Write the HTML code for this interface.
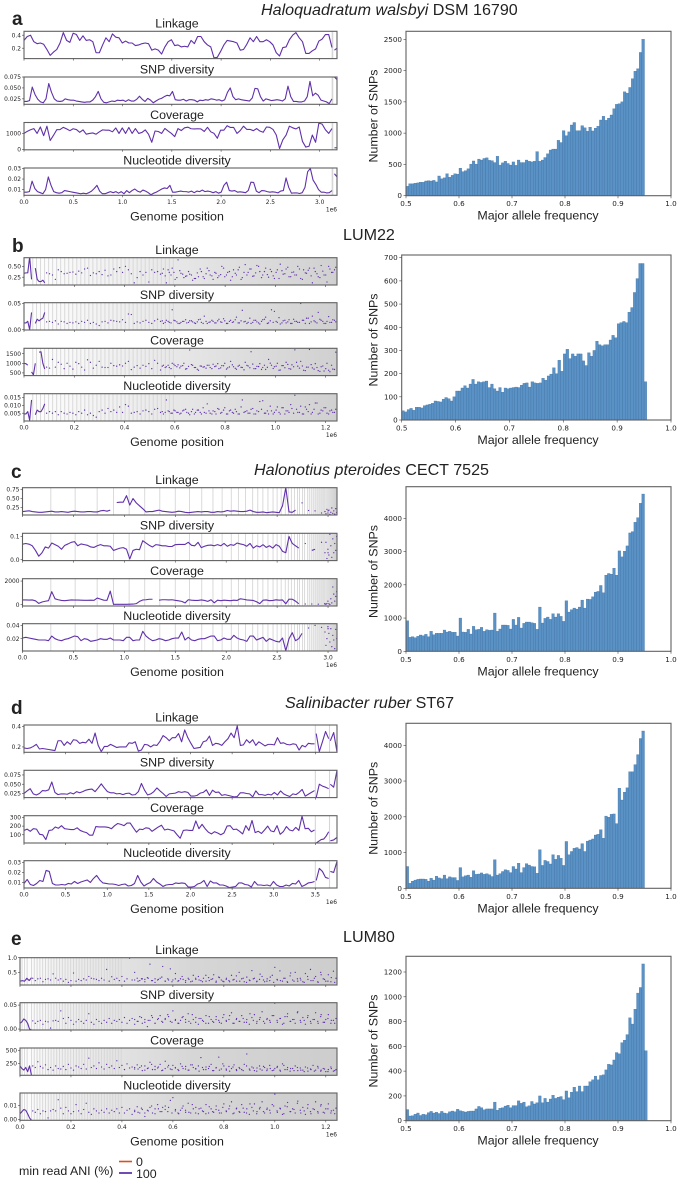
<!DOCTYPE html>
<html lang="en">
<head>
<meta charset="utf-8">
<title>Genome-wide SNP statistics</title>
<style>
html,body{margin:0;padding:0;background:#fff;}
#figure{display:block;width:679px;height:1181px;filter:blur(0.3px);}
text{font-family:"Liberation Sans",sans-serif;fill:#222;}
.tick{font-family:"DejaVu Sans",sans-serif;fill:#222;}
</style>
</head>
<body>
<svg id="figure" xmlns="http://www.w3.org/2000/svg" width="679" height="1181" viewBox="0 0 679 1181">
<defs>
<linearGradient id="shadeB" x1="0" x2="1" y1="0" y2="0"><stop offset="0" stop-color="#fff"/><stop offset="0.3" stop-color="#f0f0f0"/><stop offset="0.6" stop-color="#e2e2e2"/><stop offset="1" stop-color="#d0d0d0"/></linearGradient>
<linearGradient id="shadeE" x1="0" x2="1" y1="0" y2="0"><stop offset="0" stop-color="#fff"/><stop offset="0.12" stop-color="#f0f0f0"/><stop offset="0.32" stop-color="#e2e2e2"/><stop offset="0.55" stop-color="#d6d6d6"/><stop offset="1" stop-color="#cdcdcd"/></linearGradient>
<linearGradient id="shadeC" x1="0" x2="1" y1="0" y2="0"><stop offset="0" stop-color="#fff"/><stop offset="0.9" stop-color="#fff"/><stop offset="0.96" stop-color="#e6e6e6"/><stop offset="1" stop-color="#d0d0d0"/></linearGradient>
</defs>

<text x="261" y="15" font-size="16.1"><tspan font-style="italic">Haloquadratum walsbyi</tspan> DSM 16790</text>
<text x="343" y="240" font-size="16.1">LUM22</text>
<text x="254" y="475" font-size="16.1"><tspan font-style="italic">Halonotius pteroides</tspan> CECT 7525</text>
<text x="285" y="708" font-size="16.1"><tspan font-style="italic">Salinibacter ruber</tspan> ST67</text>
<text x="343" y="942" font-size="16.1">LUM80</text>

<text x="12" y="25" font-size="19" font-weight="bold">a</text>
<text x="12" y="252" font-size="19" font-weight="bold">b</text>
<text x="11" y="478" font-size="19" font-weight="bold">c</text>
<text x="11" y="714" font-size="19" font-weight="bold">d</text>
<text x="11" y="945" font-size="19" font-weight="bold">e</text>

<g>
<text x="19" y="1175" font-size="12.4">min read ANI (%)</text>
<line x1="119" x2="132" y1="1161.5" y2="1161.5" stroke="#dd4f1c" stroke-width="1.6"/>
<text x="136" y="1166" font-size="12.4">0</text>
<line x1="119" x2="132" y1="1173" y2="1173" stroke="#4a1fa0" stroke-width="1.6"/>
<text x="136" y="1178" font-size="12.4">100</text>
</g>
</svg>

<script>
/* ---------- Panel a: H. walsbyi ---------- */
const aLinkage = [.32,.38,.40,.30,.27,.28,.26,.18,.09,.14,.18,.28,.44,.32,.29,.43,.41,.32,.39,.32,.33,.30,.13,.13,.25,.36,.30,.42,.37,.36,.28,.31,.28,.28,.24,.25,.27,.28,.27,.17,.19,.17,.11,.22,.30,.33,.24,.25,.22,.23,.22,.32,.27,.38,.38,.30,.25,.22,.05,.06,.15,.25,.32,.31,.30,.28,.17,.18,.26,.36,.30,.38,.30,.30,.33,.30,.25,.13,.08,.21,.22,.33,.40,.44,.36,.30,.12,.12,.16,.19,.31,.34,.41,.41,.21];
const aLinkageTail = [.17,.20];
const aSnp = [.019,.019,.021,.052,.035,.024,.018,.016,.025,.060,.040,.025,.020,.019,.020,.025,.023,.022,.022,.020,.019,.018,.017,.018,.018,.022,.030,.042,.025,.017,.016,.018,.020,.019,.022,.021,.022,.019,.023,.020,.020,.024,.031,.024,.019,.026,.022,.016,.020,.024,.026,.030,.033,.032,.042,.023,.022,.022,.024,.020,.023,.023,.022,.018,.022,.021,.023,.022,.025,.024,.022,.023,.020,.023,.040,.050,.030,.023,.025,.023,.022,.021,.020,.027,.049,.048,.030,.020,.025,.023,.021,.022,.023,.022,.020,.025,.054,.030,.019,.019,.018,.018,.020,.030,.065,.032,.038,.033,.022,.020,.018,.014,.025];
const aSnpTail = [.075,.069];
const aCoverage = [1000,1130,1230,1300,1000,1400,860,1450,560,880,1230,1240,1380,1280,1170,1290,1240,1070,1220,950,1000,1030,950,1100,1220,1200,1200,1100,1340,1000,1340,1000,1370,1000,1300,1000,1060,1220,950,450,1150,1120,1000,1310,1150,1000,800,1300,1180,1350,1390,1290,1280,1290,1280,1120,1380,1100,1000,700,1200,1200,1480,1370,1370,1000,1180,1450,1250,1250,1170,1300,1150,1070,1400,1380,1250,900,60,600,900,1450,1350,1280,1400,500,150,200,900,450,1640,1580,1230,1000,1300];
const aCoverageTail = [100,110];
const aNuc = [.0075,.0075,.008,.018,.011,.008,.007,.006,.010,.022,.014,.008,.007,.0065,.007,.009,.0085,.008,.0075,.007,.0065,.006,.0065,.006,.007,.0085,.011,.014,.0085,.006,.006,.007,.008,.007,.008,.0065,.008,.006,.009,.007,.009,.0105,.0085,.0075,.0095,.0085,.007,.005,.0065,.0075,.009,.0105,.0115,.011,.014,.0075,.0075,.008,.0085,.008,.008,.0075,.0085,.007,.0085,.008,.0095,.008,.0085,.008,.007,.008,.0065,.0075,.014,.017,.009,.0085,.009,.0075,.0078,.0075,.007,.009,.017,.0168,.0085,.007,.009,.0088,.008,.0075,.0078,.0075,.0068,.0085,.009,.021,.012,.0065,.0068,.0068,.0062,.007,.012,.027,.03,.019,.015,.010,.0075,.0075,.0068,.007,.009];
const aNucTail = [.025,.022];
const aContigs = [3.13];

/* ---------- Panel b: LUM22 ---------- */
const bLinkageHead = [.34,.35,.35,.72,.2,null,.46,.2,.15,.15,.18,.12];
const bLinkageDots = [.35,.33,.3,.2,.42,.38,.33,.34,.36,.37,.32,.39,.35,.44,.46,.29,.35,.33,.38,.31,.41,.28,.3,.44,.38,.47,.36,.5,.42,.33,.12,.24,.38,.3,.36,.14,.42,.36,.38,.32,.44,.12,.36,.46,.2,.65,.34,.24,.28,.32,.18,.22,.26,.38,.22,.46,.3,.2,.34,.28,.5,.26,.36,.18,.42,.3,.48,.24,.54,.36,.44,.28,.52,.38,.3,.46,.25,.38,.22,.42,.55,.32,.44,.26,.36,.3,.5,.22,.42,.34,.46,.12,.38,.26,.52,.3,.14,.44,.36,.48];
const bLinkageExtra = [.34,.28,.42,.3,.36,.24,.4,.32,.27,.38,.3,.22,.35,.44,.26,.33,.4,.28,.36,.24,.31,.46,.3,.38,.26,.34,.42,.2,.36,.3,.44,.27,.35,.5,.24,.38,.31,.43,.28,.36,.22,.4,.33,.48,.26,.37,.3,.44,.2,.35,.41,.28,.46,.33,.24,.39,.3,.5,.36,.42];
const bSnpHead = [.013,.013,.016,.0,.033,null,.012,.02,.017,.02,.022,.033];
const bSnpDots = [.015,.016,.014,.017,.011,.016,.015,.012,.014,.013,.015,.012,.016,.014,.018,.012,.014,.011,.008,.015,.016,.013,.018,.017,.016,.015,.019,.014,.03,.029,.012,.015,.013,.016,.018,.014,.012,.017,.02,.016,.012,.018,.014,.038,.017,.012,.014,.016,.013,.017,.015,.012,.019,.014,.026,.012,.015,.016,.013,.02,.014,.017,.012,.018,.015,.024,.013,.037,.016,.014,.012,.018,.015,.011,.019,.024,.013,.038,.035,.014,.011,.017,.013,.019,.012,.016,.014,.05,.018,.022,.012,.026,.015,.033,.018,.012,.016,.014,.019,.015];
const bSnpExtra = [.017,.014,.016,.013,.018,.015,.012,.016,.019,.014,.017,.013,.015,.02,.012,.016,.014,.018,.013,.017,.015,.021,.012,.016,.014,.019,.013,.017,.015,.012,.022,.014,.018,.013,.016,.02,.012,.017,.014,.016,.023,.013,.018,.015,.012,.02,.016,.014,.018,.012,.022,.015,.017,.013,.02,.016,.012,.025,.014,.018];
const bCoverageHead = [1000,980,900,null,550,400,1000,null,1580,1600,1000,700];
const bCoverageDots = [800,750,1200,800,1050,950,720,1000,850,700,1050,980,800,650,1180,1050,750,900,1100,800,780,780,1000,880,850,920,860,1000,1100,670,800,880,750,900,840,980,720,1150,1000,650,900,820,780,1000,880,920,850,1000,720,1690,900,780,640,850,820,900,780,950,860,720,880,1000,760,1100,820,690,900,780,1050,860,1600,720,840,980,780,680,1200,900,820,1000,650,880,1050,720,920,1700,850,1100,640,800,1720,760,980,620,820,600,1000,560,700,1580];
const bCoverageExtra = [850,780,900,720,950,820,760,880,700,840,930,780,690,860,800,750,900,720,830,980,760,870,700,810,920,740,850,790,660,890,770,960,720,830,680,900,790,1010,730,850,640,880,770,940,700,820,1050,750,860,620,800,930,700,780,580,860,720,640,900,680];
const bNucHead = [.0045,.0045,.006,.0005,.0135,null,.004,.007,.006,.006,.008,.011];
const bNucDots = [.005,.006,.005,.006,.004,.006,.005,.0045,.0055,.005,.004,.006,.005,.007,.004,.005,.0035,.0025,.006,.007,.005,.008,.006,.007,.0055,.009,.0055,.0105,.0095,.005,.0055,.006,.0045,.0065,.007,.006,.0045,.0075,.008,.0055,.0045,.0135,.006,.005,.0065,.0055,.005,.007,.0055,.004,.0075,.0055,.007,.0045,.0055,.011,.005,.0065,.0045,.0075,.0055,.0085,.0045,.007,.005,.006,.0045,.0135,.006,.005,.0075,.0045,.0065,.0125,.013,.005,.0045,.0065,.0055,.009,.0045,.0085,.0065,.0055,.008,.0165,.0055,.0095,.0045,.0075,.0105,.0055,.0115,.0045,.007,.0085,.005,.0065,.0055,.0075];
const bNucExtra = [.006,.0055,.0065,.005,.007,.0055,.0045,.0065,.0075,.005,.006,.0045,.007,.0055,.0085,.005,.0065,.0045,.006,.008,.005,.007,.0045,.0065,.0055,.0075,.0045,.009,.0055,.0065,.005,.008,.0045,.006,.0075,.005,.0065,.0095,.0045,.007,.0055,.0085,.0045,.0065,.0105,.005,.0075,.0055,.0045,.009,.006,.0045,.0075,.0115,.005,.0065,.0085,.0045,.007,.0055];
const bContigs = [.035,.05,.066,.082,.098,.114,.13,.146,.162,.178,.194,.21,.226,.242,.258,.274,.29,.306,.322,.338,.354,.37,.386,.402,.418,.434,.45,.466,.482,.498,.514,.53,.546,.562,.578,.594];

/* ---------- Panel c: H. pteroides ---------- */
const cLinkage = [.14,.15,.16,.14,.13,.12,.12,.13,.14,.15,.13,.13,.14,.13,.12,.14,.15,.14,.13,.13,.14,.14,.13,.13,.16,.17,.15,.18,null,.39,.40,.40,.58,.32,.50,.38,.30,.22,.13,.14,.14,.16,.18,.15,.14,.13,.12,.13,.15,.14,.12,.11,.12,.13,.14,.13,.14,.14,.12,.12,.14,.13,.14,.17,.15,.16,.15,.14,.14,.15,.18,.14,.12,.12,.13,.11,.12,.13,.12,.11,.30,.80,.13,.12,.18,null,.38,null,.17,null,.16,null,.10,null,.16];
const cLinkageTail = [.14,.08,.2,.1,.18,.06,.12,.24,.09,.16,.07,.22,.11];
const cSnp = [.067,.07,.067,.06,.04,.015,.03,.055,.05,.072,.065,.058,.045,.062,.068,.075,.078,.06,.068,.065,.062,.055,.053,.06,.065,.06,.06,.058,.04,.045,.05,.052,.045,.003,.04,.045,.043,.082,.072,.062,.055,.065,.063,.06,.06,.057,.057,.065,.066,.066,.066,.075,.062,.06,.075,.052,.058,.062,.063,.06,.065,.06,.07,.058,.065,.062,.072,.068,.065,.058,.07,.05,.06,.055,.065,.053,.06,.05,.065,.058,.036,.03,.10,.07,.06,.05,null,.07,null,.04,.045,null,.075,null,.03];
const cSnpTail = [.03,.075,.005,.045,.02,.11,.06,.01,.09,.03,.07,.04,.1];
const cCoverage = [400,400,390,400,330,110,230,290,340,1100,500,420,360,340,370,400,390,390,380,370,370,380,370,560,470,380,370,1150,30,30,30,30,30,40,50,90,280,400,420,460,460,null,380,420,420,400,420,370,330,280,150,420,380,360,360,400,360,280,420,160,380,340,380,360,340,380,360,500,460,400,380,360,250,90,380,400,340,360,410,380,400,80,470,460,300,80,null,60,null,60,null,50,null,90,null];
const cCoverageTail = [60,40,100,300,80,20,500,150,1500,900,300,700,1100];
const cNuc = [.021,.022,.021,.02,.019,.018,.018,.018,.017,.024,.02,.018,.017,.019,.02,.022,.024,.023,.017,.02,.019,.016,.017,.018,.02,.019,.019,.021,.018,.018,.018,.017,.022,.022,.017,.018,.018,.031,.024,.02,.017,.018,.02,.019,.017,.018,.02,.021,.021,.03,.018,.022,.018,.017,.019,.02,.02,.022,.024,.024,.017,.018,.021,.019,.019,.025,.021,.019,.018,.016,.024,.024,.018,.02,.022,.016,.02,.018,.016,.015,.021,.002,.02,.029,.017,.02,.028,null,.036,null,.04,null,.037,null,.035];
const cNucTail = [.03,.01,.02,.038,.028,.015,.035,.008,.025,.018,.005,.034,.02];
const cContigs = [.278,.517,.733,.893,1.047,1.2,1.348,1.5,1.64,1.76,1.87,1.96,2.05,2.12,2.19,2.26,2.31,2.36,2.41,2.46,2.5,2.54,2.58,2.61,2.64,2.67,2.7,2.72,2.75,2.77,2.8,2.82,2.84,2.86,2.88,2.9,2.92,2.94,2.96];

/* ---------- Panel d: S. ruber ---------- */
const dLinkage = [.19,.185,.19,.205,.225,.18,.185,.18,.175,.17,.165,.26,.26,.215,.25,.225,.27,.265,.235,.245,.24,.275,.235,.335,.215,.155,.205,.205,.225,.21,.195,.2,.2,.2,.24,.235,.25,.16,.17,.225,.22,.2,.22,.215,.255,.31,.29,.26,.29,.29,.33,.25,.365,.29,.235,.185,.19,.195,.25,.26,.305,.215,.235,.23,.215,.25,.28,.335,.29,.405,.215,.22,.27,.24,.27,.215,.25,.23,.21,.225,.225,.22,.29,.235,.24,.225,.22,.23,.225,.17,.215,.2,.235,.23,.23];
const dLinkageB = [.33,.155,.25,.35,.28];
const dLinkageC = [.26,.34,.15];
const dSnp = [.025,.032,.038,.024,.021,.025,.033,.032,.035,.056,.028,.022,.024,.024,.023,.027,.024,.03,.027,.03,.034,.036,.037,.03,.04,.051,.04,.03,.027,.027,.024,.025,.022,.025,.026,.021,.022,.03,.052,.034,.021,.024,.03,.04,.032,.025,.017,.024,.025,.026,.03,.028,.03,.028,.018,.018,.02,.026,.028,.035,.02,.034,.028,.029,.02,.022,.02,.018,.016,.017,.027,.027,.025,.024,.016,.032,.022,.022,.02,.023,.021,.028,.021,.032,.024,.02,.017,.024,.022,.028,.036,.018,.023,.028,.033];
const dSnpB = [.014,.05,.045,.042,.038];
const dSnpC = [.05,.042,.0875];
const dCoverage = [150,165,140,170,165,105,100,45,150,155,190,175,205,170,165,160,160,180,150,135,125,95,95,195,190,190,190,185,170,205,230,220,205,235,235,180,130,165,160,180,175,140,165,190,210,155,165,155,145,100,60,150,155,150,150,260,170,220,170,130,110,135,120,100,120,200,205,160,165,140,110,205,150,265,125,140,115,155,200,145,135,205,105,135,195,155,145,185,150,315,170,175,135,155];
const dCoverageB = [5,25,45,50,85,135];
const dCoverageC = [30,40,70];
const dNuc = [.009,.013,.008,.007,.009,.012,.011,.022,.021,.009,.0075,.0075,.008,.0075,.009,.0085,.011,.009,.0105,.0115,.0125,.01,.014,.017,.0125,.0095,.009,.0085,.0085,.008,.007,.008,.0085,.0065,.007,.009,.017,.0105,.0065,.0085,.01,.014,.0105,.0085,.006,.0075,.008,.008,.0095,.009,.0095,.009,.0055,.0055,.006,.0085,.0095,.012,.006,.0115,.0095,.0095,.0075,.0075,.0065,.005,.0055,.006,.0095,.0095,.008,.0075,.0055,.011,.0075,.0075,.007,.0075,.0065,.011,.0075,.006,.006,.0075,.0065,.009,.0085,.012,.006,.0075,.0095,.01,.011];
const dNucB = [.012,.024,.021,.015,.014];
const dNucC = [.021,.02,.031];
const dContigs = [3.5,3.67];

/* ---------- Panel e: LUM80 ---------- */
const eLinkageHead = [.2,.22,.2,.3,.22,.32];
const eLinkageDots = [.3,.22,.28,.3,.18,.26,.28,.24,.45,.3,.24,.28,.2,.26,.16,.22,.48,.2,.26,.22,.28,.24,.36,.3,.28,.26,.22,.3,.24,.6,.2,.35,.26,.3,.22,.36,.2,.28,.98,.24,.5,.3,.22,.28,.26,.32,.78,.22,.28,.24,.3,.7,.2,.28,.62,.24,.46,.2,.28,.26,.22,.3,.18,.4,.26,.36,.22,.3,.2,.32,.26,.42,.2,.34,.24,.18,.3,.22,.4,.26,.2,.5,.28,.18,.34,.24,.56,.3,.2,.26,.36,.18,.28,.22,.4,.67,.24,.55,.2,.3,.16,.38,.24,.5,.2,.3,.18,.46,.26,.6,.22,.36,.16,.5,.28,.2,.42,.18,.54,.3];
const eLinkageExtra = [.24,.2,.28,.18,.3,.22,.16,.26,.34,.2,.24,.18,.28,.22,.36,.16,.26,.2,.3,.24,.18,.4,.22,.28,.16,.32,.2,.26,.18,.24,.38,.2,.3,.16,.22,.28,.18,.44,.24,.2,.34,.16,.26,.22,.3,.18,.48,.2,.28,.24,.16,.36,.22,.3,.18,.42,.26,.2,.32,.16];
const eSnpHead = [.012,.015,.021,.018,.012,.0,-.002];
const eSnpDots = [.017,.012,.016,.018,.01,.016,.015,.002,.017,.018,.016,.038,.022,.012,.024,.018,.01,.015,.02,.016,.012,.018,.032,.014,.01,.02,.016,.012,.018,.014,.022,.012,.018,.016,.02,.014,.024,.012,.018,.022,.01,.016,.026,.012,.02,.005,.018,.024,.012,.02,.028,.014,.022,.03,.016,.038,.02,.012,.018,.026,.014,.032,.012,.02,.024,.01,.022,.016,.028,.012,.02,.014,.026,.018,.012,.03,.016,.02,.034,.012,.022,.016,.028,.014,.02,.01,.024,.03,.016,.02,.036,.012,.022,.018,.028,.054,.014,.022,.01,.026,.032,.016,.02,.012,.036,.018,.024,.01,.028,.016,.02,.034,.012,.026,.014,.02,.03,.012,.018,.022];
const eSnpExtra = [.02,.016,.024,.014,.018,.028,.012,.022,.016,.02,.026,.014,.018,.012,.024,.02,.016,.03,.014,.022,.018,.012,.026,.016,.02,.014,.024,.018,.028,.012,.02,.016,.022,.014,.032,.018,.012,.024,.016,.02,.014,.028,.018,.022,.012,.026,.016,.02,.034,.014,.018,.024,.012,.02,.016,.03,.014,.022,.018,.012];
const eCoverageHead = [200,150,120,170,90,200,20];
const eCoverageDots = [200,170,280,190,160,220,130,170,120,200,150,140,190,130,230,160,120,200,180,150,230,140,350,170,200,150,260,180,140,230,170,200,150,300,170,210,130,240,160,180,140,220,170,110,200,150,270,130,190,160,230,120,290,180,140,210,160,130,240,150,190,120,220,170,140,200,360,130,180,150,230,110,170,370,140,200,120,190,150,220,110,170,130,230,430,140,180,110,160,200,120,170,140,210,110,150,190,120,240,130,170,100,150,200,110,160,120,180,100,140,210,120,160,100,150,90,130,180,100,130];
const eCoverageExtra = [170,140,200,120,160,230,130,180,110,150,210,130,170,110,190,140,120,220,150,100,170,130,190,110,160,120,240,140,100,180,130,150,110,200,120,160,100,140,190,110,150,120,170,100,210,130,150,110,170,120,90,160,130,100,190,120,140,90,150,110];
const eNucHead = [.004,.0055,.007,.0065,.004,.001,-.0007];
const eNucDots = [.006,.005,.007,.004,.006,.0055,.001,.006,.007,.006,.014,.008,.004,.0085,.006,.004,.0055,.0105,.006,.004,.007,.0115,.005,.0035,.0075,.006,.0045,.0065,.005,.0075,.0045,.0065,.0055,.0075,.0045,.0085,.0045,.0065,.0075,.0035,.0055,.009,.0045,.007,.002,.0065,.0085,.0045,.0075,.0105,.0055,.0085,.0095,.0055,.0135,.0155,.007,.0045,.0065,.0095,.005,.0115,.0045,.0075,.0085,.004,.008,.0055,.0105,.0045,.0075,.005,.0095,.0065,.0045,.011,.0055,.0075,.0125,.0045,.008,.0055,.0105,.005,.0075,.0035,.0085,.011,.0055,.0075,.0125,.0045,.008,.0065,.0105,.018,.005,.008,.0035,.0095,.012,.0055,.0075,.0045,.013,.0065,.0085,.0035,.0105,.0055,.0075,.0125,.0045,.0095,.005,.0075,.011,.0045,.0065,.008];
const eNucExtra = [.0065,.005,.008,.0045,.006,.0095,.004,.0075,.0055,.007,.0085,.0045,.006,.004,.008,.0065,.005,.0105,.0045,.0075,.006,.004,.009,.0055,.007,.0045,.0085,.006,.0095,.004,.0075,.005,.008,.0045,.011,.006,.004,.0085,.0055,.007,.0045,.0095,.006,.0075,.004,.009,.0055,.007,.0115,.0045,.006,.008,.004,.007,.0055,.0105,.0045,.0075,.006,.004];
const eContigs = [.008,.018,.028,.045,.056,.067,.078,.089,.1,.111,.122,.133,.144,.155,.166,.177,.188,.199,.21,.221,.232,.243,.254,.265,.276,.287,.298,.309,.32,.331,.342,.353,.364,.375,.386,.397];

/* ---------- Histogram counts (bins of 0.005 from 0.5) ---------- */
const aHist = [150,190,190,200,205,215,215,235,240,235,245,220,315,270,285,350,295,325,350,345,440,385,400,430,505,555,505,585,570,595,605,565,560,530,630,490,525,550,515,490,540,485,570,530,530,570,550,540,550,705,550,570,610,670,730,745,745,885,850,1040,960,1020,1130,1170,1040,1040,1120,1085,1030,1095,1035,1080,1110,1210,1270,1205,1240,1290,1390,1460,1470,1500,1660,1640,1730,1870,1990,2030,2290,2500];
const bHist = [40,35,45,50,42,55,55,52,62,65,68,72,82,80,78,90,97,92,82,100,125,125,138,148,138,155,175,155,165,162,165,168,140,155,135,125,140,120,138,135,138,140,142,140,150,158,160,142,165,160,158,160,180,172,190,198,225,200,258,210,285,305,265,285,275,285,285,255,235,290,275,300,340,325,320,325,325,345,365,355,415,420,425,420,465,485,550,610,675,675,165];
const cHist = [920,420,440,410,450,490,470,510,440,600,500,540,540,540,640,580,600,570,575,460,1000,580,570,660,520,750,650,660,720,600,650,630,640,1150,600,670,790,790,780,670,960,790,1020,700,840,880,880,860,840,660,1330,850,990,1030,960,1130,1030,1130,1050,900,1520,1180,1250,1300,1270,1330,1540,1300,1570,1560,1640,1780,1800,1980,1760,2290,2340,2320,2500,2290,3020,2840,3010,3170,3560,3600,3880,4020,4450,4730];
const dHist = [610,140,200,230,250,260,260,250,200,280,230,340,290,270,370,270,320,300,300,220,580,320,350,370,310,490,390,400,430,390,410,380,330,800,370,410,470,520,500,440,610,540,700,440,580,690,650,610,600,420,1080,640,780,750,680,940,810,920,840,640,1310,940,1030,1120,1140,1100,1250,1030,1320,1350,1380,1490,1510,1640,1400,2020,1990,2070,2080,1810,2800,2470,2690,2810,3260,3260,3460,3740,4190,4400];
const eHist = [90,38,40,52,62,42,52,48,65,75,62,68,58,75,62,58,72,78,72,92,80,75,70,75,78,78,95,115,105,88,95,95,95,150,85,100,105,118,125,105,122,122,160,140,150,112,120,155,135,145,200,145,180,150,175,205,180,190,195,170,240,185,230,270,235,280,235,280,280,315,330,360,330,365,370,410,455,450,490,550,540,630,650,695,830,780,900,1030,1075,1265,565];

/* ---------- Axis ticks (values and printed labels) ---------- */
const histXTicks = [0.5,0.6,0.7,0.8,0.9,1.0];
const aHistTicks = [0,500,1000,1500,2000,2500];
const bHistTicks = [0,100,200,300,400,500,600,700];
const cHistTicks = [0,1000,2000,3000,4000];
const dHistTicks = [0,1000,2000,3000,4000];
const eHistTicks = [0,200,400,600,800,1000,1200];
const aGenomeTicks = [0,0.5,1,1.5,2,2.5,3];
const bGenomeTicks = [0,0.2,0.4,0.6,0.8,1,1.2];
const cGenomeTicks = [0,0.5,1,1.5,2,2.5,3];
const dGenomeTicks = [0,0.5,1,1.5,2,2.5,3,3.5];
const eGenomeTicks = [0,0.2,0.4,0.6,0.8,1,1.2];
const subplotNames = ['Linkage','SNP diversity','Coverage','Nucleotide diversity'];

const aYTicks = [[.2,.4],[.025,.05,.075],[0,1000],[.01,.02,.03]];
const aYLabels = [['0.2','0.4'],['0.025','0.050','0.075'],['0','1000'],['0.01','0.02','0.03']];
const bYTicks = [[.25,.5],[0,.05],[500,1000,1500],[.005,.01,.015]];
const bYLabels = [['0.25','0.50'],['0.00','0.05'],['500','1000','1500'],['0.005','0.010','0.015']];
const cYTicks = [[.25,.5,.75],[0,.1],[0,2000],[.02,.04]];
const cYLabels = [['0.25','0.50','0.75'],['0.0','0.1'],['0','2000'],['0.02','0.04']];
const dYTicks = [[.2,.4],[.025,.05,.075],[100,200,300],[.01,.02,.03]];
const dYLabels = [['0.2','0.4'],['0.025','0.050','0.075'],['100','200','300'],['0.01','0.02','0.03']];
const eYTicks = [[.5,1],[0,.05],[250,500],[0,.01]];
const eYLabels = [['0.5','1.0'],['0.00','0.05'],['250','500'],['0.00','0.01']];

const aDomains = [[.04,.46],[.0125,.075],[-20,1680],[.0045,.0305]];
const bDomains = [[.07,.70],[-.0005,.0515],[360,1780],[0,.0175]];
const cDomains = [[.045,.80],[-.004,.114],[-110,2200],[.0015,.0425]];
const dDomains = [[.148,.413],[.014,.0875],[5,320],[.0045,.0317]];
const eDomains = [[.07,1.0],[-.002,.055],[20,545],[-.0007,.0188]];

/* ---------- Drawing ---------- */
const NS = 'http://www.w3.org/2000/svg';
const root = document.getElementById('figure');
const LINE = '#6030ab';
const AXH = 27.3, AXR = 337;

function mk(parent, tag, attrs) {
  const el = document.createElementNS(NS, tag);
  for (const k in attrs) el.setAttribute(k, attrs[k]);
  parent.appendChild(el);
  return el;
}
function linear(d0, d1, r0, r1) {
  return v => r0 + (v - d0) / (d1 - d0) * (r1 - r0);
}
function tickLine(parent, x1, y1, x2, y2) {
  const t = mk(parent, 'line', {x1, y1, x2, y2, stroke: '#444', 'stroke-width': 0.6});
  
  
}
function tickText(parent, x, y, s, anchor, size) {
  const t = mk(parent, 'text', {x, y, 'text-anchor': anchor, 'font-size': size, class: 'tick'});
  
  
  t.textContent = s;
}
function plotRuns(g, values, x0, x1, X, Y, clipId) {
  const step = values.length > 1 ? (x1 - x0) / (values.length - 1) : 0;
  let run = [];
  const flush = () => {
    if (run.length === 1) {
      const c = mk(g, 'circle', {cx: run[0][0], cy: run[0][1], r: 0.65, fill: LINE, 'clip-path': `url(#${clipId})`});
      
      
    } else if (run.length > 1) {
      const p = mk(g, 'polyline', {points: run.map(q => q[0].toFixed(2) + ',' + q[1].toFixed(2)).join(' '), fill: 'none', stroke: LINE, 'stroke-width': 1.1, 'stroke-linejoin': 'round', 'clip-path': `url(#${clipId})`});
      
      
    }
    run = [];
  };
  values.forEach((v, i) => {
    if (v === null) { flush(); return; }
    run.push([X(x0 + i * step), Y(v)]);
  });
  flush();
}
function plotDots(g, values, x0, x1, X, Y, clipId) {
  const step = (x1 - x0) / (values.length - 1);
  values.forEach((v, i) => {
    const c = mk(g, 'circle', {cx: X(x0 + i * step), cy: Y(v), r: 0.65, fill: LINE, 'clip-path': `url(#${clipId})`});
    
    
  });
}
let clipCount = 0;
function drawGenome(id, left, tops, xmax, xTicks, yTicks, yLabels, domains, contigs, shade, contigW, seriesFn) {
  const X = linear(0, xmax, left, AXR);
  const group = mk(root, 'g', {});
  
  
  tops.forEach((top, s) => {
    const bottom = top + AXH;
    const g = mk(group, 'g', {});
    
    
    const clipId = 'clip' + (clipCount++);
    const cp = mk(root.querySelector('defs'), 'clipPath', {id: clipId});
    mk(cp, 'rect', {x: left, y: top, width: AXR - left, height: AXH});
    if (shade) {
      const sh = mk(g, 'rect', {x: left, y: top, width: AXR - left, height: AXH, fill: shade});
      
      
    }
    contigs.forEach(c => {
      const l = mk(g, 'line', {x1: X(c), x2: X(c), y1: top, y2: bottom, stroke: '#d6d6d6', 'stroke-width': contigW});
      
      
    });
    const Y = linear(domains[s][0], domains[s][1], bottom, top);
    seriesFn(s, g, X, Y, clipId);
    const frame = mk(g, 'rect', {x: left, y: top, width: AXR - left, height: AXH, fill: 'none', stroke: '#606060', 'stroke-width': 1.1});
    
    
    yTicks[s].forEach((v, i) => {
      tickLine(g, left - 2, Y(v), left, Y(v));
      tickText(g, left - 3, Y(v) + 2.1, yLabels[s][i], 'end', 5.9);
    });
    xTicks.forEach(v => tickLine(g, X(v), bottom, X(v), bottom + 2));
    const tt = mk(g, 'text', {x: 177, y: top - 3.6, 'text-anchor': 'middle', 'font-size': 12.4});
    
    
    tt.textContent = subplotNames[s];
    if (s === 3) {
      xTicks.forEach(v => tickText(g, X(v), bottom + 8.6, v.toFixed(1), 'middle', 5.9));
      tickText(g, AXR, bottom + 16, '1e6', 'end', 5.9);
      const xl = mk(g, 'text', {x: 177, y: bottom + 25, 'text-anchor': 'middle', 'font-size': 12.4});
      
      
      xl.textContent = 'Genome position';
    }
  });
}
function drawHist(id, left, top, bottom, y0, yRef, refValue, counts, yTicksList) {
  const right = 671;
  const X = linear(0.5, 1.0, left, right);
  const Y = linear(0, refValue, y0, yRef);
  const g = mk(root, 'g', {});
  
  
  counts.forEach((c, i) => {
    const b0 = 0.5 + i * 0.005;
    const r = mk(g, 'rect', {x: X(b0), y: Y(c), width: X(b0 + 0.005) - X(b0), height: y0 - Y(c), fill: '#5a92c6', stroke: '#3a6c9e', 'stroke-width': 0.3});
    
    
  });
  const frame = mk(g, 'rect', {x: left, y: top, width: right - left, height: bottom - top, fill: 'none', stroke: '#606060', 'stroke-width': 1.1});
  
  
  yTicksList.forEach(v => {
    tickLine(g, left - 2.5, Y(v), left, Y(v));
    tickText(g, left - 4, Y(v) + 2.5, String(v), 'end', 7.2);
  });
  histXTicks.forEach(v => {
    tickLine(g, X(v), bottom, X(v), bottom + 2.5);
    tickText(g, X(v), bottom + 10.5, v.toFixed(1), 'middle', 7.2);
  });
  const xl = mk(g, 'text', {x: 538, y: bottom + 24, 'text-anchor': 'middle', 'font-size': 12.4});
  
  
  xl.textContent = 'Major allele frequency';
  const cy = (top + bottom) / 2 + 2.5;
  const yl = mk(g, 'text', {x: 0, y: 0, transform: `translate(377.5 ${cy}) rotate(-90)`, 'text-anchor': 'middle', 'font-size': 12.4});
  
  
  yl.textContent = 'Number of SNPs';
}

const aMain = [aLinkage, aSnp, aCoverage, aNuc];
const aTail = [aLinkageTail, aSnpTail, aCoverageTail, aNucTail];
drawGenome('a', 24, [31.3,77,122.5,168], 3.176, aGenomeTicks, aYTicks, aYLabels, aDomains, aContigs, null, 1.6, (s, g, X, Y, clip) => {
  plotRuns(g, aMain[s], 0, 3.125, X, Y, clip);
  plotRuns(g, aTail[s], 3.15, 3.176, X, Y, clip);
});

const bHead = [bLinkageHead, bSnpHead, bCoverageHead, bNucHead];
const bDots = [bLinkageDots, bSnpDots, bCoverageDots, bNucDots];
const bExtra = [bLinkageExtra, bSnpExtra, bCoverageExtra, bNucExtra];
drawGenome('b', 24, [257.7,302.7,348.3,393.7], 1.245, bGenomeTicks, bYTicks, bYLabels, bDomains, bContigs, 'url(#shadeB)', 0.9, (s, g, X, Y, clip) => {
  plotRuns(g, bHead[s], 0, 0.0825, X, Y, clip);
  plotDots(g, bDots[s], 0.09, 1.24, X, Y, clip);
  plotDots(g, bExtra[s], 0.55, 1.235, X, Y, clip);
});

const cMain = [cLinkage, cSnp, cCoverage, cNuc];
const cTail = [cLinkageTail, cSnpTail, cCoverageTail, cNucTail];
drawGenome('c', 22.5, [487.7,533.3,578.7,623.7], 3.088, cGenomeTicks, cYTicks, cYLabels, cDomains, cContigs, 'url(#shadeC)', 0.9, (s, g, X, Y, clip) => {
  plotRuns(g, cMain[s], 0, 3.0, X, Y, clip);
  plotDots(g, cTail[s], 2.97, 3.085, X, Y, clip);
});

const dMain = [dLinkage, dSnp, dCoverage, dNuc];
const dSegB = [dLinkageB, dSnpB, dCoverageB, dNucB];
const dSegC = [dLinkageC, dSnpC, dCoverageC, dNucC];
drawGenome('d', 24, [725,770.3,815.7,860.7], 3.76, dGenomeTicks, dYTicks, dYLabels, dDomains, dContigs, null, 1.1, (s, g, X, Y, clip) => {
  plotRuns(g, dMain[s], 0, 3.49, X, Y, clip);
  plotRuns(g, dSegB[s], 3.51, 3.66, X, Y, clip);
  plotRuns(g, dSegC[s], 3.68, 3.76, X, Y, clip);
});

const eHead = [eLinkageHead, eSnpHead, eCoverageHead, eNucHead];
const eDots = [eLinkageDots, eSnpDots, eCoverageDots, eNucDots];
const eExtra = [eLinkageExtra, eSnpExtra, eCoverageExtra, eNucExtra];
drawGenome('e', 20, [957.7,1002.7,1048,1093], 1.244, eGenomeTicks, eYTicks, eYLabels, eDomains, eContigs, 'url(#shadeE)', 0.9, (s, g, X, Y, clip) => {
  plotRuns(g, eHead[s], 0, 0.045, X, Y, clip);
  plotDots(g, eDots[s], 0.05, 1.24, X, Y, clip);
  plotDots(g, eExtra[s], 0.45, 1.235, X, Y, clip);
});

drawHist('a', 406, 31.3, 195.7, 195.7, 39.3, 2500, aHist, aHistTicks);
drawHist('b', 401.7, 255, 420, 420, 257.7, 700, bHist, bHistTicks);
drawHist('c', 406, 486.7, 651.3, 651.3, 518.3, 4000, cHist, cHistTicks);
drawHist('d', 406, 723.3, 888.3, 888.3, 745.3, 4000, dHist, dHistTicks);
drawHist('e', 406, 956.3, 1120.7, 1120.7, 972, 1200, eHist, eHistTicks);
</script>
</body>
</html>
